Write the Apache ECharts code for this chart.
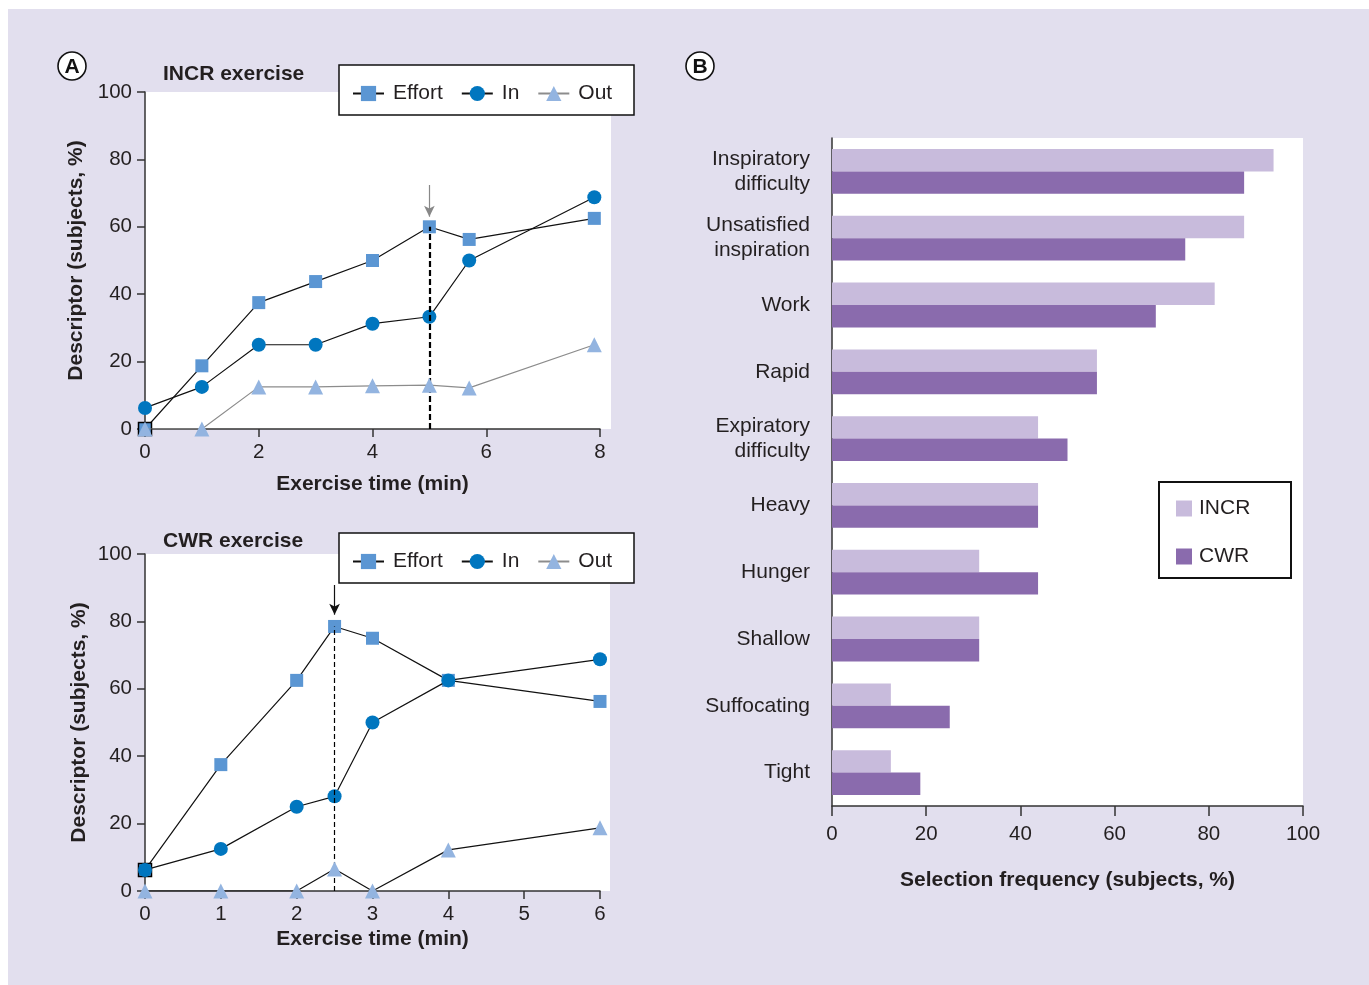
<!DOCTYPE html>
<html><head><meta charset="utf-8">
<script src="https://cdn.jsdelivr.net/npm/echarts@6/dist/echarts.min.js"></script>
<style>html,body{margin:0;padding:0;background:#fff;}#c{position:absolute;left:8px;top:9px;width:1361px;height:976px;}</style>
</head><body><div id="c"></div>
<script>
// ---------- data ----------
const incrTime   = [0, 1, 2, 3, 4, 5, 5.7, 7.9];
const incrEffort = [0, 18.75, 37.5, 43.75, 50, 60, 56.25, 62.5];
const incrIn     = [6.25, 12.5, 25, 25, 31.25, 33.3, 50, 68.75];
const incrOut    = [0, 0, 12.5, 12.5, 12.8, 13, 12.2, 25];
const incrMarkX  = 5;
const incrArrow  = [72.4, 63];

const cwrTime   = [0, 1, 2, 2.5, 3, 4, 6];
const cwrEffort = [6.25, 37.5, 62.5, 78.5, 75, 62.5, 56.25];
const cwrIn     = [6.25, 12.5, 25, 28.1, 50, 62.5, 68.75];
const cwrOut    = [0, 0, 0, 6.5, 0, 12.2, 18.75];
const cwrMarkX  = 2.5;
const cwrArrow  = [90.8, 82];

const descriptors = ['Inspiratory\ndifficulty', 'Unsatisfied\ninspiration', 'Work', 'Rapid',
  'Expiratory\ndifficulty', 'Heavy', 'Hunger', 'Shallow', 'Suffocating', 'Tight'];
const incrFreq = [93.75, 87.5, 81.25, 56.25, 43.75, 43.75, 31.25, 31.25, 12.5, 12.5];
const cwrFreq  = [87.5, 75, 68.75, 56.25, 50, 43.75, 43.75, 31.25, 25, 18.75];

const seriesNames = ['Effort', 'In', 'Out'];
const barNames = ['INCR', 'CWR'];

// ---------- style ----------
const FONT = '"Liberation Sans", Arial, Helvetica, sans-serif';
const TXT = '#231f20';
const OX = 8, OY = 9; // container offset
const C_EFF = '#5b96d3', C_IN = '#0076bf', C_OUT = '#93b4e0';
const C_INCR = '#c8bbdc', C_CWR = '#8a6bad';

function pts(xs, ys) { return xs.map((x, i) => [x, ys[i]]); }

function lineS(name, gi, xs, ys, opt) {
  const data = pts(xs, ys);
  if (opt.firstBorder) {
    data[0] = { value: data[0], itemStyle: { borderColor: '#000', borderWidth: 1.5 } };
  }
  return {
    type: 'line', name: name, xAxisIndex: gi, yAxisIndex: gi,
    data: data, symbol: opt.symbol, symbolSize: opt.size,
    itemStyle: { color: opt.color }, lineStyle: { color: opt.line, width: 1.2 },
    z: opt.z, animation: false, markLine: opt.markLine
  };
}

function dashLine(x, yTop, width, dash) {
  return {
    silent: true, symbol: ['none', 'none'], label: { show: false }, animation: false,
    lineStyle: { color: '#000', width: width, type: dash },
    data: [[{ coord: [x, 0] }, { coord: [x, yTop] }]]
  };
}
function arrowLine(x, ys, color) {
  return {
    silent: true, symbol: ['none', 'arrow'], symbolSize: [8, 11], label: { show: false }, animation: false,
    lineStyle: { color: color, width: 1.2, type: 'solid' },
    data: [[{ coord: [x, ys[0]] }, { coord: [x, ys[1]] }]]
  };
}

function valAxis(gi, min, max, interval, extra) {
  return Object.assign({
    type: 'value', gridIndex: gi, min: min, max: max, interval: interval,
    axisLine: { show: true, onZero: false, lineStyle: { color: '#333', width: 1.5 } },
    axisTick: { show: true, inside: false, length: 8, lineStyle: { color: '#333', width: 1.5 } },
    axisLabel: { color: TXT, fontSize: 20.5, fontFamily: FONT, margin: 13 },
    splitLine: { show: false },
    nameLocation: 'middle',
    nameTextStyle: { color: TXT, fontSize: 21, fontWeight: 'bold', fontFamily: FONT }
  }, extra || {});
}

const gridA1 = { left: 145 - OX, top: 92 - OY, width: 455, height: 337 };
const gridA2 = { left: 145 - OX, top: 554 - OY, width: 455, height: 337 };
const gridB  = { left: 832 - OX, top: 138 - OY, width: 471, height: 668 };
[gridA1, gridA2, gridB].forEach(g => { g.show = true; g.backgroundColor = '#fff'; g.borderWidth = 0; });

const legendLine = (top) => ({
  data: seriesNames, orient: 'horizontal', left: 352 - OX, top: top - OY, padding: 0,
  itemWidth: 31, itemHeight: 19, itemGap: 18, selectedMode: false,
  textStyle: { color: TXT, fontSize: 21, fontFamily: FONT, padding: [0, 0, 0, 4] }
});

const option = {
  backgroundColor: '#e2dfee',
  animation: false,
  textStyle: { fontFamily: FONT },
  title: [
    { text: 'INCR exercise', left: 163 - OX, top: 64 - OY, padding: 0,
      textStyle: { color: TXT, fontSize: 21, fontWeight: 'bold', fontFamily: FONT } },
    { text: 'CWR exercise', left: 163 - OX, top: 531 - OY, padding: 0,
      textStyle: { color: TXT, fontSize: 21, fontWeight: 'bold', fontFamily: FONT } }
  ],
  graphic: [
    { type: 'rect', shape: { x: 600 - OX, y: 92 - OY, width: 11, height: 337 }, style: { fill: '#fff' }, silent: true, z: -1 },
    { type: 'rect', shape: { x: 600 - OX, y: 554 - OY, width: 10, height: 337 }, style: { fill: '#fff' }, silent: true, z: -1 },
    { type: 'rect', shape: { x: 339 - OX, y: 65 - OY, width: 295, height: 50 }, style: { fill: '#fff', stroke: '#111', lineWidth: 1.5 }, silent: true, z: 5 },
    { type: 'rect', shape: { x: 339 - OX, y: 533 - OY, width: 295, height: 50 }, style: { fill: '#fff', stroke: '#111', lineWidth: 1.5 }, silent: true, z: 5 },
    { type: 'rect', shape: { x: 1159 - OX, y: 482 - OY, width: 132, height: 96 }, style: { fill: '#fff', stroke: '#111', lineWidth: 2 }, silent: true, z: 5 },
    { type: 'circle', shape: { cx: 72 - OX, cy: 66 - OY, r: 14 }, style: { fill: '#fff', stroke: '#111', lineWidth: 1.6 }, silent: true, z: 5 },
    { type: 'text', x: 72 - OX, y: 67 - OY, style: { text: 'A', fill: '#111', font: 'bold 21px ' + FONT, align: 'center', verticalAlign: 'middle' }, silent: true, z: 6 },
    { type: 'circle', shape: { cx: 700 - OX, cy: 66 - OY, r: 14 }, style: { fill: '#fff', stroke: '#111', lineWidth: 1.6 }, silent: true, z: 5 },
    { type: 'text', x: 700 - OX, y: 67 - OY, style: { text: 'B', fill: '#111', font: 'bold 21px ' + FONT, align: 'center', verticalAlign: 'middle' }, silent: true, z: 6 }
  ],
  legend: [
    Object.assign(legendLine(83), { z: 10 }),
    Object.assign(legendLine(551), { z: 10 }),
    { data: barNames, orient: 'vertical', left: 1176 - OX, top: 498 - OY, z: 10, padding: 0,
      itemWidth: 16, itemHeight: 16, itemGap: 27, icon: 'rect', selectedMode: false,
      textStyle: { color: TXT, fontSize: 21, fontFamily: FONT, padding: [0, 0, 0, 2] } }
  ],
  grid: [gridA1, gridA2, gridB],
  xAxis: [
    valAxis(0, 0, 8, 2, { name: 'Exercise time (min)', nameGap: 45 }),
    valAxis(1, 0, 6, 1, { name: 'Exercise time (min)', nameGap: 38 }),
    valAxis(2, 0, 100, 20, { name: 'Selection frequency (subjects, %)', nameGap: 64,
      axisTick: { show: true, length: 10, lineStyle: { color: '#333', width: 1.5 } },
      axisLabel: { color: TXT, fontSize: 20.5, fontFamily: FONT, margin: 18 } })
  ],
  yAxis: [
    valAxis(0, 0, 100, 20, { name: 'Descriptor (subjects, %)', nameGap: 58 }),
    valAxis(1, 0, 100, 20, { name: 'Descriptor (subjects, %)', nameGap: 55 }),
    { type: 'category', gridIndex: 2, data: descriptors, inverse: true,
      axisLine: { show: true, lineStyle: { color: '#333', width: 1.5 } },
      axisTick: { show: false },
      axisLabel: { color: TXT, fontSize: 21, fontFamily: FONT, margin: 22, lineHeight: 25, align: 'right' } }
  ],
  series: [
    lineS('Effort', 0, incrTime, incrEffort, { symbol: 'rect', size: 13, color: C_EFF, line: '#111', z: 3, firstBorder: true,
      markLine: dashLine(incrMarkX, incrEffort[incrTime.indexOf(incrMarkX)], 2.2, [6, 3]) }),
    lineS('In', 0, incrTime, incrIn, { symbol: 'circle', size: 14, color: C_IN, line: '#111', z: 4,
      markLine: arrowLine(incrMarkX, incrArrow, '#888') }),
    lineS('Out', 0, incrTime, incrOut, { symbol: 'triangle', size: 15, color: C_OUT, line: '#8c8c8c', z: 5 }),
    lineS('Effort', 1, cwrTime, cwrEffort, { symbol: 'rect', size: 13, color: C_EFF, line: '#111', z: 3, firstBorder: true,
      markLine: dashLine(cwrMarkX, cwrEffort[cwrTime.indexOf(cwrMarkX)], 1.2, [5, 3]) }),
    lineS('In', 1, cwrTime, cwrIn, { symbol: 'circle', size: 14, color: C_IN, line: '#111', z: 4,
      markLine: arrowLine(cwrMarkX, cwrArrow, '#111') }),
    lineS('Out', 1, cwrTime, cwrOut, { symbol: 'triangle', size: 15, color: C_OUT, line: '#111', z: 5 }),
    { type: 'bar', name: 'INCR', xAxisIndex: 2, yAxisIndex: 2, data: incrFreq,
      itemStyle: { color: C_INCR }, barGap: '0%', barCategoryGap: '33%', animation: false },
    { type: 'bar', name: 'CWR', xAxisIndex: 2, yAxisIndex: 2, data: cwrFreq,
      itemStyle: { color: C_CWR }, barGap: '0%', barCategoryGap: '33%', animation: false }
  ]
};

const chart = echarts.init(document.getElementById('c'), null, { renderer: 'canvas' });
chart.setOption(option);
</script></body></html>
